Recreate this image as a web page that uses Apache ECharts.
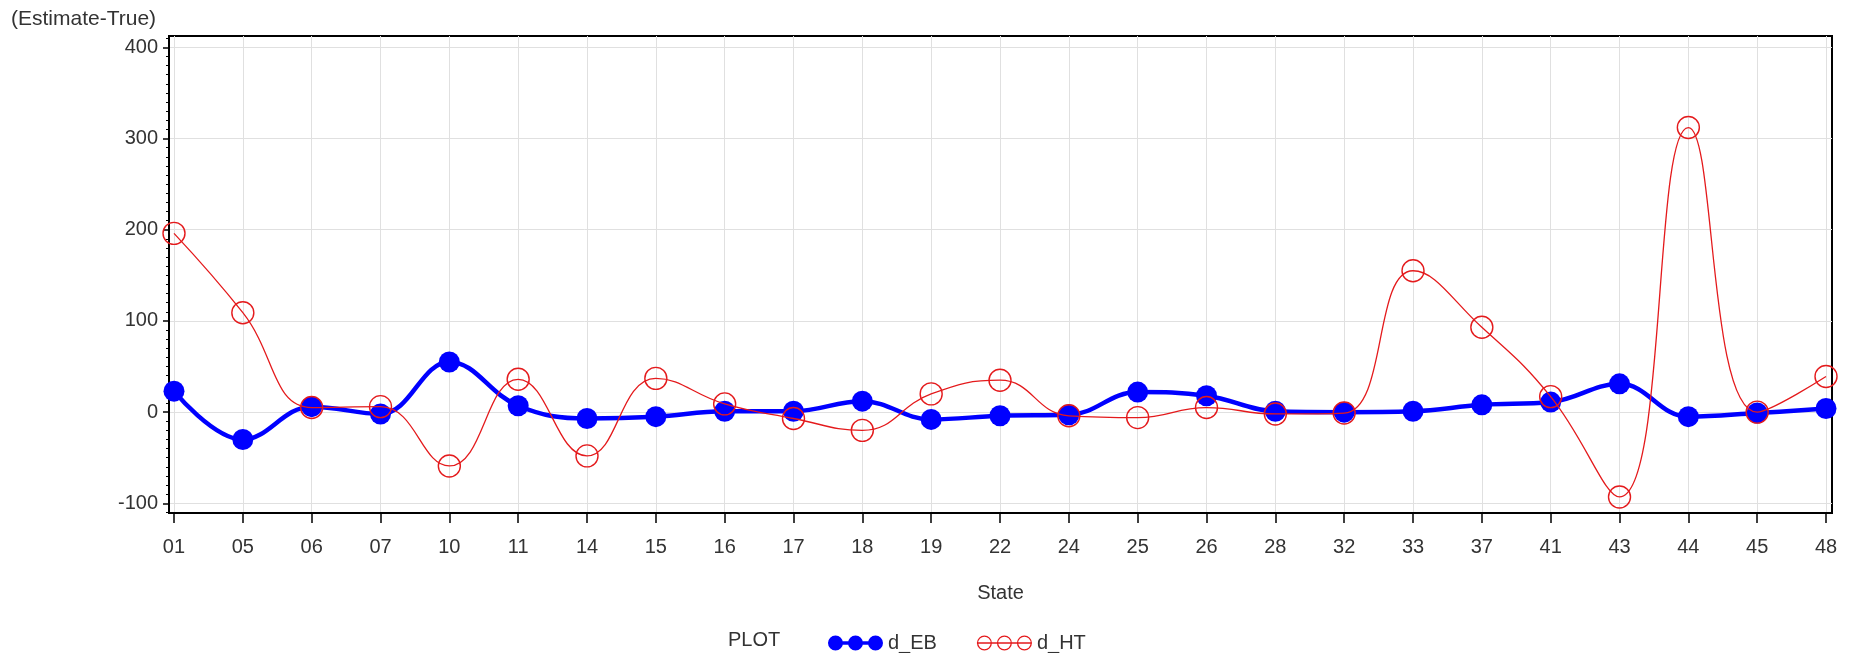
<!DOCTYPE html>
<html>
<head>
<meta charset="utf-8">
<script src="https://cdn.jsdelivr.net/npm/echarts@6/dist/echarts.min.js"></script>
<style>
html,body{margin:0;padding:0;background:#fff;}
#chart{width:1851px;height:653px;}
</style>
</head>
<body>
<div id="chart"></div>
<script>
const states = ['01','05','06','07','10','11','14','15','16','17','18','19','22','24','25','26','28','32','33','37','41','43','44','45','48'];
const dEB = [23, -30, 6, -2, 55, 7, -7, -5, 1, 1, 12, -8, -4, -3, 22, 18, 1, 0, 1, 8, 11, 31, -5, -1, 4];
const dHT = [196, 109, 5, 6, -59, 36, -48, 37, 9, -7, -20, 20, 35, -4, -6, 5, -2, -1, 155, 93, 17, -93, 312, 0, 39];
const yTicks = [-100, 0, 100, 200, 300, 400];

const FONT = "'Liberation Sans', Arial, sans-serif";
const TXT = '#333333';
const BLUE = '#0000FF';
const RED = '#E41A1C';
const GRIDC = '#e0e0e0';

const xIdx = states.map((s, i) => i);
const ebData = dEB.map((v, i) => [i, v]);
const htData = dHT.map((v, i) => [i, v]);

const disc = (cx) => `M${cx-7.5},7.5A7.5,7.5,0,1,1,${cx+7.5},7.5A7.5,7.5,0,1,1,${cx-7.5},7.5Z`;
const blueIcon = 'path://' + disc(7.5) + ' ' + disc(27.5) + ' ' + disc(47.5) + ' M7.5,5.8L47.5,5.8L47.5,9.2L7.5,9.2Z';
const ring = (cx) => {
  const o = 7.5, r = 6.2;
  return `M${cx-o},7.5A${o},${o},0,1,1,${cx+o},7.5A${o},${o},0,1,1,${cx-o},7.5Z M${cx-r},7.5A${r},${r},0,1,0,${cx+r},7.5A${r},${r},0,1,0,${cx-r},7.5Z`;
};
const redIcon = 'path://' + ring(7.5) + ' ' + ring(27.5) + ' ' + ring(47.5) + ' M0,6.85L55,6.85L55,8.15L0,8.15Z';

const chart = echarts.init(document.getElementById('chart'), null, {renderer: 'canvas'});
chart.setOption({
  animation: false,
  backgroundColor: '#fff',
  textStyle: {fontFamily: FONT},
  title: [
    {text: '(Estimate-True)', left: 11, top: 9, padding: 0,
     textStyle: {fontFamily: FONT, fontSize: 21, fontWeight: 'normal', color: TXT}},
    {text: 'PLOT', left: 728, top: 630, padding: 0,
     textStyle: {fontFamily: FONT, fontSize: 20, fontWeight: 'normal', color: TXT}}
  ],
  legend: {
    left: 828, top: 633, padding: 0,
    itemWidth: 55, itemHeight: 15, itemGap: 40,
    textStyle: {fontFamily: FONT, fontSize: 20, color: TXT},
    data: [
      {name: 'd_EB', icon: blueIcon, itemStyle: {color: BLUE, borderWidth: 0}},
      {name: 'd_HT', icon: redIcon, itemStyle: {color: RED, borderWidth: 0}}
    ]
  },
  grid: {
    left: 169, right: 19, top: 36, bottom: 140,
    show: true, borderColor: '#000', borderWidth: 2, backgroundColor: '#fff',
    containLabel: false
  },
  xAxis: {
    type: 'value',
    min: -0.0726, max: 24.087,
    name: 'State', nameLocation: 'middle', nameGap: 70,
    nameTextStyle: {fontFamily: FONT, fontSize: 20, color: TXT},
    axisLine: {show: true, onZero: false, lineStyle: {color: '#000', width: 2}},
    axisTick: {show: true, length: 10, customValues: xIdx, lineStyle: {color: '#000', width: 1.5}},
    axisLabel: {show: true, customValues: xIdx, margin: 24, fontFamily: FONT, fontSize: 20, color: TXT,
      formatter: (v) => states[Math.round(v)] || ''},
    splitLine: {show: true, lineStyle: {color: GRIDC, width: 1}},
    minorTick: {show: false}
  },
  yAxis: {
    type: 'value',
    min: -110.6, max: 412.4,
    axisLine: {show: true, onZero: false, lineStyle: {color: '#000', width: 2}},
    axisTick: {show: true, length: 6, customValues: yTicks, lineStyle: {color: '#000', width: 1.5}},
    minorTick: {show: true, splitNumber: 10, length: 3, lineStyle: {color: '#000', width: 1}},
    axisLabel: {show: true, customValues: yTicks, margin: 11, fontFamily: FONT, fontSize: 20, color: TXT},
    splitLine: {show: true, lineStyle: {color: GRIDC, width: 1}}
  },
  series: [
    {
      name: 'd_EB', type: 'line', data: ebData, smooth: 0.4,
      symbol: 'circle', symbolSize: 21,
      lineStyle: {color: BLUE, width: 4.5},
      itemStyle: {color: BLUE},
      z: 2
    },
    {
      name: 'd_HT', type: 'line', data: htData, smooth: 0.45,
      symbol: 'circle', symbolSize: 22,
      lineStyle: {color: RED, width: 1.3},
      itemStyle: {color: 'rgba(0,0,0,0)', borderColor: RED, borderWidth: 1.4},
      z: 3
    }
  ]
});
</script>
</body>
</html>
